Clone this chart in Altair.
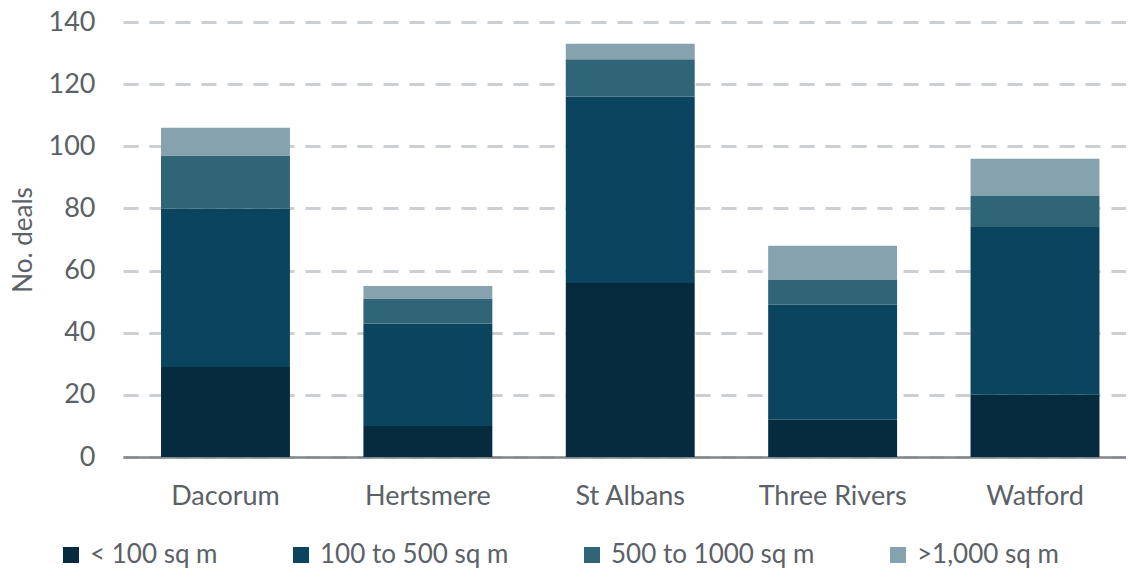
import altair as alt
import pandas as pd

districts = ["Dacorum", "Hertsmere", "St Albans", "Three Rivers", "Watford"]
size_bands = ["< 100 sq m", "100 to 500 sq m", "500 to 1000 sq m", ">1,000 sq m"]
under_100 = [29, 10, 56, 12, 20]
from_100_to_500 = [51, 33, 60, 37, 54]
from_500_to_1000 = [17, 8, 12, 8, 10]
over_1000 = [9, 4, 5, 11, 12]
band_colors = ["#072b3e", "#0b445e", "#306477", "#86a2ae"]
y_ticks = [0, 20, 40, 60, 80, 100, 120, 140]

series = [under_100, from_100_to_500, from_500_to_1000, over_1000]
rows = []
for bi, (band, vals) in enumerate(zip(size_bands, series)):
    for d, v in zip(districts, vals):
        rows.append({"district": d, "band": band, "order": bi, "deals": v})
df = pd.DataFrame(rows)

text_color = "#5b6167"
fs = 27

chart = alt.Chart(df).mark_bar().encode(
    x=alt.X(
        "district:N",
        sort=districts,
        scale=alt.Scale(paddingInner=0.363, paddingOuter=0.1595, align=0.589),
        axis=alt.Axis(
            title=None, labelAngle=0, ticks=False, grid=False,
            domainColor="#7f868c", domainWidth=2.5,
            labelPadding=26, labelFontSize=fs, labelColor=text_color,
        ),
    ),
    y=alt.Y(
        "deals:Q",
        scale=alt.Scale(domain=[0, 140], nice=False),
        axis=alt.Axis(
            title="No. deals", values=y_ticks, domain=False, ticks=False,
            gridColor="#ccd0d4", gridDash=[15, 11], gridWidth=3,
            labelPadding=28, labelFontSize=fs, labelColor=text_color,
            titlePadding=12, titleFontSize=fs - 1, titleColor=text_color,
            titleFontWeight="normal",
        ),
    ),
    color=alt.Color(
        "band:N",
        sort=size_bands,
        scale=alt.Scale(domain=size_bands, range=band_colors),
        legend=alt.Legend(
            title=None, orient="none", direction="horizontal",
            legendX=-65, legendY=520,
            symbolType="square", symbolSize=256, symbolStrokeWidth=0,
            labelFontSize=fs - 1, labelColor=text_color, labelOffset=6,
            labelLimit=500, columnPadding=70,
        ),
    ),
    order=alt.Order("order:Q", sort="ascending"),
).properties(
    width=1003,
    height=435,
    autosize=alt.AutoSizeParams(type="none"),
    padding={"left": 115, "top": 14, "right": 0, "bottom": 114},
).configure(
    font="Lato",
).configure_view(
    stroke=None,
)

chart.save("out.html", embed_options={"renderer": "svg", "actions": False})
